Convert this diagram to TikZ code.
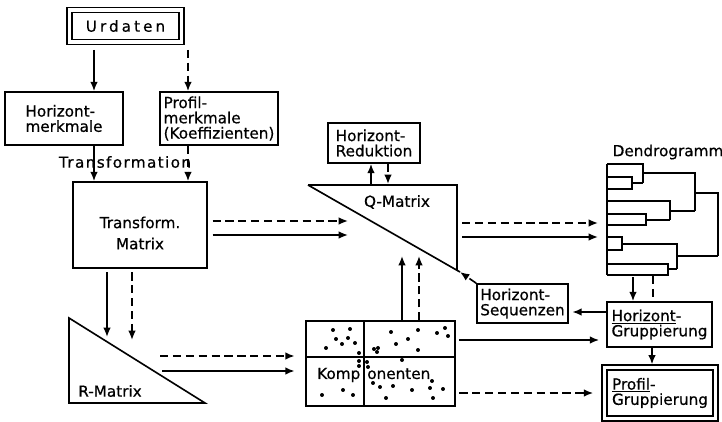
\documentclass[tikz,border=0pt]{standalone}
\usepackage{fontspec}
\setmainfont[FakeBold=0.6]{DejaVu Sans}
\newfontfamily\lsA[LetterSpace=20,FakeBold=0.6]{DejaVu Sans}
\newfontfamily\lsB[LetterSpace=9,FakeBold=0.6]{DejaVu Sans}
\usetikzlibrary{arrows.meta}
\begin{document}
\begin{tikzpicture}[x=0.03cm,y=-0.03cm,
  every node/.style={font=\fontsize{13}{13}\selectfont, inner sep=0pt},
  box/.style={draw, line width=1.4pt, align=left},
  dbox/.style={draw, line width=1.3pt, double, double distance=2.8pt, align=left},
  ln/.style={line width=1.4pt},
  arr/.style={ln, -{Latex[length=8pt,width=6.5pt]}},
  darr/.style={arr, dash pattern=on 7pt off 4pt},
  dln/.style={ln, dash pattern=on 7pt off 4pt}
]
\useasboundingbox (0,0) rectangle (722,422);

% boxes
\node[dbox, minimum width=3.36cm, minimum height=0.96cm, align=center] (urd) at (125.5,26) {\lsA Urdaten};
\node[box, minimum width=3.54cm, minimum height=1.59cm] (hm) at (64,118.5) {Horizont-\\merkmale};
\node[box, minimum width=3.54cm, minimum height=1.59cm] (pm) at (219,118.5) {Profil-\\merkmale\\(Koeffizienten)};
\node (trf) at (125,162) {\lsB Transformation};
\node[box, minimum width=4.02cm, minimum height=2.58cm] (tm) at (140,225) {};
\node[align=center] (tmt) at (140,233) {Transform.\\[5pt]Matrix};
\node[box, minimum width=2.76cm, minimum height=1.2cm] (red) at (374,143) {Horizont-\\Reduktion};
\node[box, minimum width=4.47cm, minimum height=2.55cm] (komp) at (380.5,363.5) {};
\node[anchor=west] (kompt) at (317,375) {Komp\hspace{6pt}onenten};
\node[box, minimum width=2.73cm, minimum height=1.17cm] (seq) at (522.5,303.5) {Horizont-\\Sequenzen};
\node[box, minimum width=3.15cm, minimum height=1.35cm] (hg) at (659.5,324.5) {\underline{Horizont}-\\Gruppierung};
\node[dbox, minimum width=3.33cm, minimum height=1.53cm] (pg) at (660,393) {\underline{Profil}-\\Gruppierung};

% Komponenten inner lines and dots
\draw[ln] (komp.west |- 0,357) -- (komp.east |- 0,357);
\draw[ln] (364,0 |- komp.north) -- (364,0 |- komp.south);
\foreach \p in {(333,330),(350,329),(336,339),(348,338),(342,344),(355,343),(326,348),(359,353),
  (391,332),(418,330),(445,328),(437,333),(448,336),(408,339),(396,344),(418,350),(374,349),(378,348),(377,352),
  (359,361),(359,366),(367,362),(368,367),(402,360),
  (322,395),(343,390),(353,395),(373,383),(380,387),(393,386),(412,390),(430,388),(432,381),(443,389),(433,398),(386,398)}
  \fill \p circle (1.7pt);

% triangles
\draw[ln, line join=miter] (69,318) -- (69,403) -- (205,403) -- cycle;
\node (rl) at (110,391) {R-Matrix};
\draw[ln, line join=miter] (308,185) -- (457,185) -- (457,270);
\draw[ln] (308,185) -- (460,272);
\coordinate (qc) at (460,272);
\node (ql) at (397,202) {Q-Matrix};

% dendrogram
\node (dl) at (668,152) {Dendrogramm};
\begin{scope}[line width=1.2pt]
\draw (607,164) -- (607,275);
\draw (607,164) -- (643,164) -- (643,183);
\draw (607,177) -- (632,177) -- (632,189) -- (607,189);
\draw (632,183) -- (643,183);
\draw (643,173) -- (695,173) -- (695,211);
\draw (607,201) -- (670,201) -- (670,220);
\draw (607,214) -- (646,214) -- (646,225) -- (607,225);
\draw (646,220) -- (670,220);
\draw (670,211) -- (695,211);
\draw (695,193) -- (718,193) -- (718,256);
\draw (607,237) -- (622,237) -- (622,250) -- (607,250);
\draw (622,244) -- (677,244) -- (677,269);
\draw (607,264) -- (668,264) -- (668,275) -- (607,275);
\draw (668,269) -- (677,269);
\draw (677,256) -- (718,256);
\end{scope}
\coordinate (dsp) at (598,0);

% connectors
\draw[arr, shorten <=6pt] (94,0 |- urd.south) -- (94,0 |- hm.north);
\draw[darr, shorten <=6pt] (188,0 |- urd.south) -- (188,0 |- pm.north);
\draw[arr] (94,0 |- hm.south) -- (94,0 |- tm.north);
\draw[darr] (188,0 |- pm.south) -- (188,0 |- tm.north);
\draw[darr, shorten <=4pt] (tm.east |- 0,221) -- (348,221);
\draw[arr, shorten <=4pt] (tm.east |- 0,235) -- (348,235);
\draw[arr, shorten <=3pt] (107,0 |- tm.south) -- (107,337);
\draw[darr, shorten <=3pt] (132,0 |- tm.south) -- (132,340);
\draw[darr, shorten >=9pt] (160,356) -- (komp.west |- 0,356);
\draw[arr, shorten >=9pt] (162,371) -- (komp.west |- 0,371);
\draw[arr] (402,0 |- komp.north) -- (402,256);
\draw[darr] (419,0 |- komp.north) -- (419,256);
\draw[arr] (371,185) -- (371,0 |- red.south);
\draw[darr] (388,0 |- red.south) -- (388,184);
\draw[darr] (462,223) -- (dsp |- 0,223);
\draw[arr] (462,237) -- (dsp |- 0,237);
\draw[arr] (633,277) -- (633,0 |- hg.north);
\draw[dln] (653,276) -- (653,0 |- hg.north);
\draw[arr, shorten >=3pt] (hg.west |- 0,312) -- (seq.east |- 0,312);
\draw[arr, shorten <=3pt, shorten >=6pt] (komp.east |- 0,340) -- (hg.west |- 0,340);
\draw[darr, shorten <=3pt, shorten >=9pt] (komp.east |- 0,393) -- (pg.west |- 0,393);
\draw[arr, shorten >=2pt] (652,0 |- hg.south) -- (652,0 |- pg.north);
\draw[darr] (seq.north west) -- (qc);
\end{tikzpicture}
\end{document}
